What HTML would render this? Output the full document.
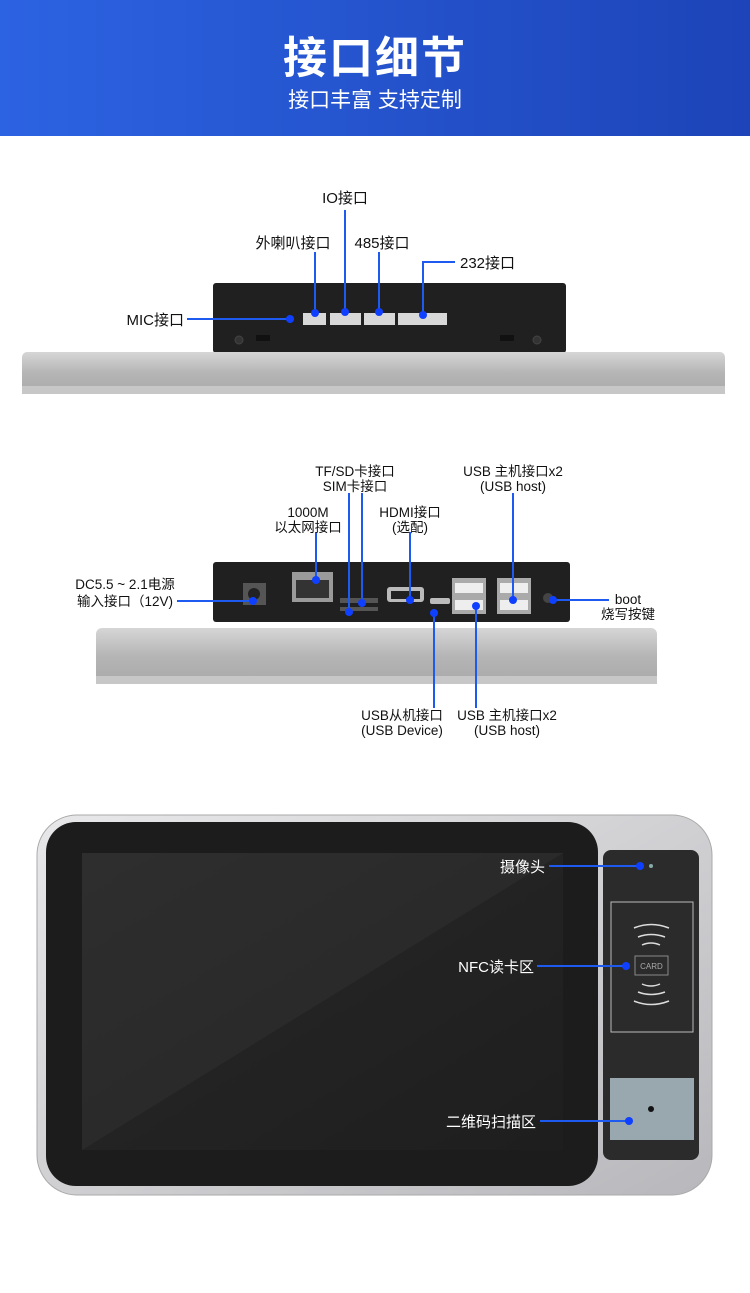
<!DOCTYPE html>
<html><head><meta charset="utf-8"><style>
html,body{margin:0;padding:0;background:#fff;}
body{width:750px;height:1293px;position:relative;overflow:hidden;font-family:"Liberation Sans","Noto Sans CJK SC",sans-serif;}
.hdr{position:absolute;left:0;top:0;width:750px;height:136px;background:linear-gradient(90deg,#2c63e2,#1d44b8);}
.t1{position:absolute;left:0;width:750px;text-align:center;color:#fff;}
svg{position:absolute;left:0;top:0;}
</style></head><body>
<div class="hdr"></div>
<div class="t1" style="top:22px;font-size:44px;font-weight:bold;letter-spacing:2px;">接口细节</div>
<div class="t1" style="top:84px;font-size:21px;">接口丰富 支持定制</div>
<svg width="750" height="1293" viewBox="0 0 750 1293" font-family="Liberation Sans, Noto Sans CJK SC, sans-serif" font-size="14" fill="#111">
<defs>
<linearGradient id="sil" x1="0" y1="0" x2="0" y2="1"><stop offset="0" stop-color="#d6d6d6"/><stop offset="0.5" stop-color="#b5b5b5"/><stop offset="1" stop-color="#a9a9a9"/></linearGradient>
<linearGradient id="scr" x1="0" y1="0" x2="1" y2="1"><stop offset="0" stop-color="#2e2e2e"/><stop offset="0.5" stop-color="#2a2a2a"/><stop offset="0.5" stop-color="#232323"/><stop offset="1" stop-color="#1e1e1e"/></linearGradient>
<linearGradient id="fr" x1="0" y1="0" x2="1" y2="1"><stop offset="0" stop-color="#e8e8ea"/><stop offset="1" stop-color="#b8b8bc"/></linearGradient>
</defs>
<!-- Section 1 -->
<rect x="213" y="283" width="353" height="70" rx="3" fill="#202020"/>
<rect x="22" y="352" width="703" height="42" rx="5" fill="url(#sil)"/>
<rect x="22" y="386" width="703" height="8" fill="#c7c7c7"/>
<circle cx="239" cy="340" r="4" fill="#333" stroke="#444"/><circle cx="537" cy="340" r="4" fill="#333" stroke="#444"/>
<rect x="256" y="335" width="14" height="6" fill="#111"/><rect x="500" y="335" width="14" height="6" fill="#111"/>
<g fill="#d8d8d8"><rect x="303" y="313" width="23" height="12"/><rect x="330" y="313" width="31" height="12"/><rect x="364" y="313" width="31" height="12"/><rect x="398" y="313" width="49" height="12"/></g>
<g stroke="#1f5af0" stroke-width="2" fill="none">
<path d="M187 319H290"/><path d="M315 252V313"/><path d="M345 210V312"/><path d="M379 252V312"/><path d="M455 262H423V315"/>
</g>
<g fill="#1040ff"><circle cx="290" cy="319" r="4"/><circle cx="315" cy="313" r="4"/><circle cx="345" cy="312" r="4"/><circle cx="379" cy="312" r="4"/><circle cx="423" cy="315" r="4"/></g>
<text x="345" y="203" text-anchor="middle" font-size="15">IO接口</text>
<text x="293" y="248" text-anchor="middle" font-size="15">外喇叭接口</text>
<text x="382" y="248" text-anchor="middle" font-size="15">485接口</text>
<text x="460" y="268" font-size="15">232接口</text>
<text x="184" y="325" text-anchor="end" font-size="15">MIC接口</text>
<!-- Section 2 -->
<rect x="213" y="562" width="357" height="60" rx="3" fill="#202020"/>
<rect x="96" y="628" width="561" height="56" rx="6" fill="url(#sil)"/>
<rect x="96" y="676" width="561" height="8" fill="#c7c7c7"/>
<rect x="243" y="583" width="23" height="22" fill="#555"/><circle cx="254" cy="594" r="6" fill="#222"/>
<rect x="292" y="572" width="41" height="30" fill="#9a9a9a"/><rect x="296" y="580" width="33" height="18" fill="#333"/>
<rect x="340" y="598" width="38" height="5" fill="#555"/><rect x="340" y="607" width="38" height="4" fill="#555"/>
<rect x="387" y="587" width="37" height="15" rx="3" fill="#bbb"/><rect x="391" y="591" width="29" height="8" fill="#222"/>
<rect x="430" y="598" width="20" height="6" rx="2" fill="#bbb"/>
<rect x="452" y="578" width="34" height="36" fill="#aaa"/><rect x="455" y="583" width="28" height="10" fill="#eee"/><rect x="455" y="600" width="28" height="10" fill="#eee"/>
<rect x="497" y="578" width="34" height="36" fill="#aaa"/><rect x="500" y="583" width="28" height="10" fill="#eee"/><rect x="500" y="600" width="28" height="10" fill="#eee"/>
<circle cx="548" cy="598" r="5" fill="#444"/>
<g stroke="#1f5af0" stroke-width="2" fill="none">
<path d="M177 601H253"/><path d="M316 532V580"/><path d="M349 493V612"/><path d="M362 493V603"/><path d="M410 532V600"/><path d="M513 493V600"/><path d="M553 600H609"/><path d="M434 613V708"/><path d="M476 606V708"/>
</g>
<g fill="#1040ff"><circle cx="253" cy="601" r="4"/><circle cx="316" cy="580" r="4"/><circle cx="349" cy="612" r="4"/><circle cx="362" cy="603" r="4"/><circle cx="410" cy="600" r="4"/><circle cx="513" cy="600" r="4"/><circle cx="553" cy="600" r="4"/><circle cx="434" cy="613" r="4"/><circle cx="476" cy="606" r="4"/></g>
<g font-size="13.5" text-anchor="middle">
<text x="355" y="476">TF/SD卡接口</text><text x="355" y="491">SIM卡接口</text>
<text x="513" y="476">USB 主机接口x2</text><text x="513" y="491">(USB host)</text>
<text x="308" y="517">1000M</text><text x="308" y="532">以太网接口</text>
<text x="410" y="517">HDMI接口</text><text x="410" y="532">(选配)</text>
<text x="125" y="589">DC5.5 ~ 2.1电源</text><text x="125" y="606">输入接口（12V)</text>
<text x="628" y="604">boot</text><text x="628" y="619">烧写按键</text>
<text x="402" y="720">USB从机接口</text><text x="402" y="735">(USB Device)</text>
<text x="507" y="720">USB 主机接口x2</text><text x="507" y="735">(USB host)</text>
</g>
<!-- Section 3 -->
<rect x="37" y="815" width="675" height="380" rx="40" fill="url(#fr)" stroke="#aaa"/>
<rect x="46" y="822" width="552" height="364" rx="30" fill="#1c1c1c"/>
<rect x="82" y="853" width="481" height="297" fill="url(#scr)"/>
<rect x="603" y="850" width="96" height="310" rx="8" fill="#2b2b2b"/>
<rect x="611" y="902" width="82" height="130" fill="none" stroke="#bbb" stroke-width="1"/>
<rect x="635" y="956" width="33" height="19" fill="none" stroke="#888"/>
<text x="651.5" y="969" font-size="8" fill="#aaa" text-anchor="middle">CARD</text>
<g stroke="#ddd" stroke-width="1.5" fill="none">
<path d="M634 928Q651 921 669 928"/><path d="M638 937Q651 932 665 937"/><path d="M642 945Q651 941 660 945"/>
<path d="M642 984Q651 988 660 984"/><path d="M638 992Q651 997 665 992"/><path d="M634 1001Q651 1008 669 1001"/>
</g>
<rect x="610" y="1078" width="84" height="62" fill="#98a8ae"/>
<circle cx="651" cy="1109" r="3" fill="#111"/>
<circle cx="651" cy="866" r="2" fill="#8aa"/>
<g stroke="#1f5af0" stroke-width="2" fill="none"><path d="M549 866H640"/><path d="M537 966H626"/><path d="M540 1121H629"/></g>
<g fill="#1040ff"><circle cx="640" cy="866" r="4"/><circle cx="626" cy="966" r="4"/><circle cx="629" cy="1121" r="4"/></g>
<g font-size="15" fill="#fff" text-anchor="end">
<text x="545" y="872">摄像头</text><text x="534" y="972">NFC读卡区</text><text x="536" y="1127">二维码扫描区</text>
</g>
</svg>
</body></html>
